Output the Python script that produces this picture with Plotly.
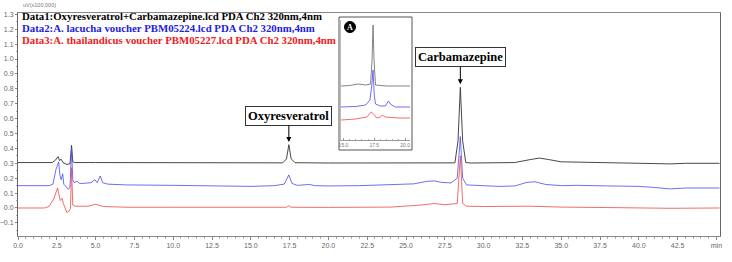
import plotly.graph_objects as go

# ---------------- data ----------------
black_t = [0, 2.2, 2.4, 2.58, 2.68, 2.78, 2.9, 3.15, 3.35, 3.45, 3.53, 3.65, 5, 10, 15, 17.05, 17.3, 17.45, 17.6, 17.85,
           20, 25, 27, 28.15, 28.35, 28.5, 28.65, 28.85, 29.2, 31, 32, 33, 33.6, 34.2, 35, 37.5, 40, 41, 42, 43, 45.2]
black_v = [0.305, 0.305, 0.32, 0.345, 0.318, 0.328, 0.305, 0.292, 0.298, 0.42, 0.31, 0.305, 0.305, 0.304, 0.303, 0.303, 0.33, 0.425, 0.33, 0.304,
           0.302, 0.302, 0.303, 0.303, 0.45, 0.81, 0.45, 0.305, 0.302, 0.302, 0.305, 0.325, 0.335, 0.325, 0.31, 0.305, 0.303, 0.298, 0.296, 0.300, 0.300]

blue_t = [0, 2.0, 2.25, 2.45, 2.62, 2.7, 2.78, 2.88, 2.95, 3.1, 3.25, 3.35, 3.45, 3.53, 3.62, 3.8, 3.95, 4.2, 4.7, 4.95, 5.1, 5.3, 5.45, 5.8,
          7, 10, 13, 15, 16.5, 17.15, 17.45, 17.65, 18, 18.8, 19.1, 20, 22, 24, 25.5, 26.3, 26.8, 27.3, 27.9, 28.3, 28.5, 28.65, 28.9,
          29.5, 31, 32, 32.8, 33.3, 34, 35, 36, 38, 40, 41, 42, 43, 45.2]
blue_v = [0.15, 0.15, 0.16, 0.26, 0.31, 0.22, 0.19, 0.23, 0.16, 0.14, 0.125, 0.14, 0.40, 0.19, 0.17, 0.18, 0.165, 0.165, 0.17, 0.19, 0.17, 0.215, 0.17, 0.16,
          0.155, 0.152, 0.148, 0.145, 0.15, 0.16, 0.222, 0.165, 0.152, 0.158, 0.15, 0.148, 0.15, 0.155, 0.162, 0.178, 0.182, 0.172, 0.168, 0.2, 0.48, 0.2, 0.155,
          0.152, 0.145, 0.148, 0.172, 0.176, 0.158, 0.15, 0.152, 0.148, 0.145, 0.138, 0.128, 0.134, 0.134]

red_t = [0, 1.7, 2.0, 2.3, 2.55, 2.65, 2.72, 2.84, 2.92, 3.15, 3.3, 3.38, 3.45, 3.53, 3.7, 4.5, 5.0, 5.5, 7, 10, 15, 17.3, 17.45, 17.6,
         20, 24, 26, 26.8, 27.5, 28.3, 28.5, 28.65, 28.9, 30, 33, 35, 38, 40, 42, 45.2]
red_v = [0.0, 0.0, 0.01, 0.06, 0.135, 0.09, 0.05, 0.065, 0.03, -0.03, -0.02, -0.005, 0.27, 0.02, 0.012, 0.012, 0.025, 0.01, 0.005, 0.005, 0.003, 0.005, 0.015, 0.005,
         0.004, 0.006, 0.02, 0.03, 0.022, 0.03, 0.35, 0.03, 0.012, 0.01, 0.012, 0.006, 0.003, 0.0, -0.002, 0.0]

# inset (zoom 15-20 min), arbitrary units
inset_black_t = [14.8, 15.5, 16.2, 16.8, 17.2, 17.32, 17.4, 17.48, 17.6, 18.5, 19.5, 20.4]
inset_black_v = [54, 54.5, 56, 55, 56, 80, 115, 80, 55, 54, 54, 54]
inset_blue_t = [14.8, 16.0, 16.8, 17.15, 17.3, 17.4, 17.5, 17.6, 18.0, 18.4, 18.65, 18.8, 19.2, 20.4]
inset_blue_v = [33, 33.5, 35, 40, 55, 70, 45, 36, 34, 34, 39, 36, 33, 33]
inset_red_t = [14.8, 16.0, 16.9, 17.25, 17.45, 17.7, 18.0, 18.15, 18.4, 19.5, 20.4]
inset_red_v = [20, 21, 23, 28, 26, 22, 23, 25, 23, 22, 22]

x_tick_vals = [0, 2.5, 5, 7.5, 10, 12.5, 15, 17.5, 20, 22.5, 25, 27.5, 30, 32.5, 35, 37.5, 40, 42.5, 45]
x_tick_text = ["0.0", "2.5", "5.0", "7.5", "10.0", "12.5", "15.0", "17.5", "20.0", "22.5", "25.0", "27.5",
               "30.0", "32.5", "35.0", "37.5", "40.0", "42.5", "min"]
legend_texts = ["Data1:Oxyresveratrol+Carbamazepine.lcd PDA Ch2 320nm,4nm",
                "Data2:A. lacucha voucher PBM05224.lcd PDA Ch2 320nm,4nm",
                "Data3:A. thailandicus voucher PBM05227.lcd PDA Ch2 320nm,4nm"]
peak_names = ["Oxyresveratrol", "Carbamazepine"]
peak_times = [17.45, 28.5]
peak_tops = [0.443, 0.83]

BLACK = "#333333"
BLUE = "#4a4af0"
RED = "#f04646"

fig = go.Figure()
fig.add_trace(go.Scatter(x=black_t, y=black_v, mode="lines", line=dict(color=BLACK, width=0.9), showlegend=False))
fig.add_trace(go.Scatter(x=blue_t, y=blue_v, mode="lines", line=dict(color=BLUE, width=0.8), showlegend=False))
fig.add_trace(go.Scatter(x=red_t, y=red_v, mode="lines", line=dict(color=RED, width=0.8), showlegend=False))

fig.add_trace(go.Scatter(x=inset_black_t, y=inset_black_v, mode="lines", line=dict(color="#666666", width=0.8),
                         xaxis="x2", yaxis="y2", showlegend=False))
fig.add_trace(go.Scatter(x=inset_blue_t, y=inset_blue_v, mode="lines", line=dict(color=BLUE, width=0.8),
                         xaxis="x2", yaxis="y2", showlegend=False))
fig.add_trace(go.Scatter(x=inset_red_t, y=inset_red_v, mode="lines", line=dict(color=RED, width=0.8),
                         xaxis="x2", yaxis="y2", showlegend=False))

W, H = 732, 262
L, R, T, B = 18, 12, 13, 26
pw, ph = W - L - R, H - T - B


def px(xp):
    return (xp - L) / pw


def py(yp):
    return (H - B - yp) / ph


tick_font = dict(family="Arial, Liberation Sans, sans-serif", size=7, color="#666666")

fig.update_layout(
    width=W, height=H,
    margin=dict(l=L, r=R, t=T, b=B, autoexpand=False),
    paper_bgcolor="white", plot_bgcolor="white",
    xaxis=dict(range=[0, 45.23], tickvals=x_tick_vals, ticktext=x_tick_text, tickfont=tick_font, automargin=False,
               showgrid=False, zeroline=False, showline=True, linecolor="#888888", linewidth=1, mirror=True,
               ticks="outside", ticklen=3, tickcolor="#888888",
               minor=dict(dtick=0.5, ticks="outside", ticklen=2, tickcolor="#aaaaaa"),
               domain=[0, 1]),
    yaxis=dict(range=[-0.188, 1.309], tickvals=[-0.1, 0, 0.1, 0.2, 0.3, 0.4, 0.5, 0.6, 0.7, 0.8, 0.9, 1.0, 1.1, 1.2, 1.3],
               tickformat=".1f", tickfont=tick_font, automargin=False,
               showgrid=False, zeroline=False, showline=True, linecolor="#666666", linewidth=1, mirror=True,
               ticks="outside", ticklen=2, tickcolor="#888888",
               minor=dict(dtick=0.05, ticks="outside", ticklen=1, tickcolor="#aaaaaa"),
               domain=[0, 1]),
    xaxis2=dict(range=[14.8, 20.4], domain=[px(341), px(410)], anchor="y2", tickvals=[15, 17.5, 20], automargin=False,
                ticktext=["15.0", "17.5", "20.0"], tickfont=dict(family="Arial, sans-serif", size=5, color="#777777"),
                showgrid=False, zeroline=False, showline=True, linecolor="#999999", linewidth=0.7,
                ticks="inside", ticklen=2, tickcolor="#999999",
                minor=dict(dtick=0.5, ticks="inside", ticklen=1, tickcolor="#aaaaaa")),
    yaxis2=dict(range=[0, 120], domain=[py(140), py(20)], anchor="x2", showticklabels=False, automargin=False,
                showgrid=False, zeroline=False, showline=True, linecolor="#bbbbbb", linewidth=0.7, ticks=""),
)

shapes = [
    dict(type="rect", xref="paper", yref="paper", x0=px(339), x1=px(412), y0=py(150), y1=py(17),
         line=dict(color="#555555", width=1), fillcolor="white", layer="below"),
    dict(type="circle", xref="paper", yref="paper", x0=px(344.5), x1=px(355.5), y0=py(32.5), y1=py(21.5),
         line=dict(color="black", width=1), fillcolor="black"),
]
fig.update_layout(shapes=shapes)

legend_colors = ["black", "#2222dd", "#ee2020"]
legend_y = [16, 28, 40]
for txt, col, yy in zip(legend_texts, legend_colors, legend_y):
    fig.add_annotation(x=px(20), y=py(yy), xref="paper", yref="paper", xanchor="left", yanchor="middle",
                       text="<b>" + txt + "</b>", showarrow=False,
                       font=dict(family="Liberation Serif, Times New Roman, serif", size=10.8, color=col))

fig.add_annotation(x=px(21), y=py(5), xref="paper", yref="paper", xanchor="left", yanchor="middle",
                   text="uV(x100,000)", showarrow=False,
                   font=dict(family="Arial, sans-serif", size=5.5, color="#777777"))

fig.add_annotation(x=px(350), y=py(27.5), xref="paper", yref="paper", xanchor="center", yanchor="middle",
                   text="<b>A</b>", showarrow=False,
                   font=dict(family="Liberation Serif, serif", size=8, color="white"))

box_ay = [-25, -26]
for name, t, top, ay in zip(peak_names, peak_times, peak_tops, box_ay):
    fig.add_annotation(x=t, y=top, xref="x", yref="y", text="<b>" + name + "</b>", showarrow=True,
                       ax=0, ay=ay - 1, arrowhead=2, arrowsize=1, arrowwidth=1, arrowcolor="black",
                       bordercolor="#333333", borderwidth=1, borderpad=2, bgcolor="white",
                       font=dict(family="Liberation Serif, Times New Roman, serif", size=12.5, color="black"))

# remove the default 8px page margin so the figure sits at the window's top-left corner
fig.write_html("out.html", config={"displayModeBar": False},
               post_script="document.body.style.margin='0px';")
